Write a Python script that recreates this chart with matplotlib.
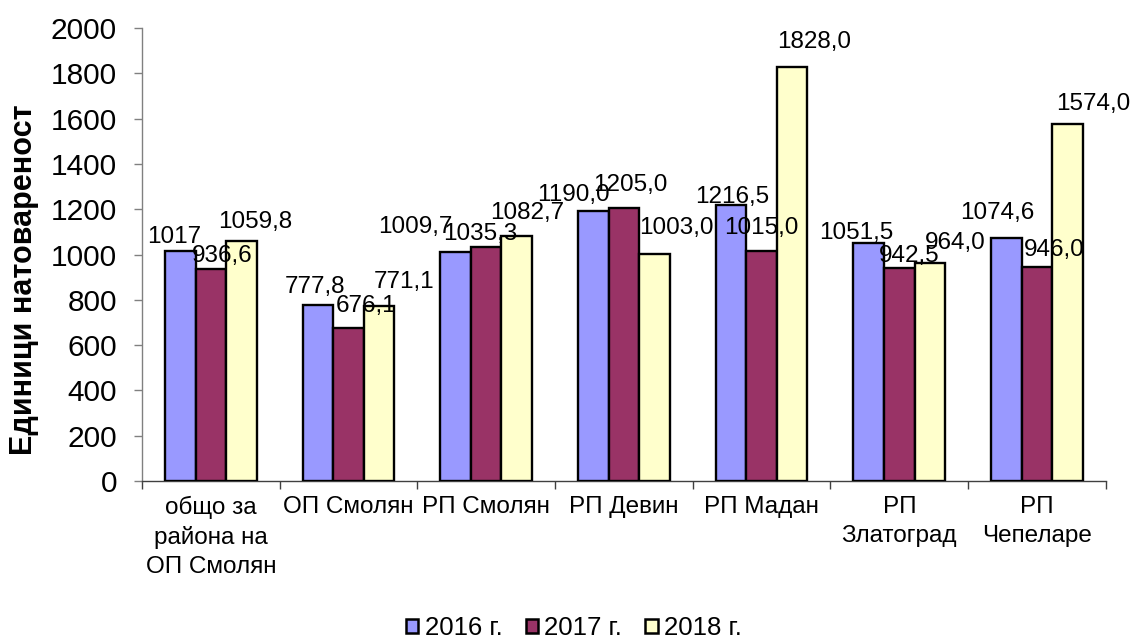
import matplotlib
matplotlib.use("Agg")
import matplotlib.pyplot as plt
import numpy as np

plt.rcParams['font.family'] = ['Liberation Sans', 'DejaVu Sans']

categories = ["общо за\nрайона на\nОП Смолян", "ОП Смолян", "РП Смолян", "РП Девин",
              "РП Мадан", "РП\nЗлатоград", "РП\nЧепеларе"]
series_names = ["2016 г.", "2017 г.", "2018 г."]
v2016 = [1017, 777.8, 1009.7, 1190.0, 1216.5, 1051.5, 1074.6]
v2017 = [936.6, 676.1, 1035.3, 1205.0, 1015.0, 942.5, 946.0]
v2018 = [1059.8, 771.1, 1082.7, 1003.0, 1828.0, 964.0, 1574.0]
labels2016 = ["1017", "777,8", "1009,7", "1190,0", "1216,5", "1051,5", "1074,6"]
labels2017 = ["936,6", "676,1", "1035,3", "1205,0", "1015,0", "942,5", "946,0"]
labels2018 = ["1059,8", "771,1", "1082,7", "1003,0", "1828,0", "964,0", "1574,0"]
colors = ["#9999FF", "#993366", "#FFFFCC"]
yticks = [0, 200, 400, 600, 800, 1000, 1200, 1400, 1600, 1800, 2000]

# layout: nudges of the value labels (pixels: dx right, gap above the bar top)
nudge_x = [[-6, -3, -40, -20, 1, -12, -9],
           [11, 18, -6, 6, 0, 10, 17],
           [14, 25, 10, 22, 22, 25, 26]]
nudge_y = [[8, 12, 19, 10, 2, 4, 19],
           [7, 16, 7, 17, 17, 6, 11],
           [13, 18, 17, 20, 19, 14, 14]]

fig = plt.figure(figsize=(11.33, 6.41), dpi=100)
ax = fig.add_axes([0.1253, 0.2496, 0.976 - 0.1253, 0.9563 - 0.2496])

x = np.arange(len(categories))
w = 0.222
px2pt = 72 / 100
for i, (vals, labs) in enumerate(zip([v2016, v2017, v2018], [labels2016, labels2017, labels2018])):
    pos = x + (i - 1) * w
    ax.bar(pos, vals, width=w, color=colors[i], edgecolor='black', linewidth=1.7,
           label=series_names[i], zorder=3)
    for j, (p, v, t) in enumerate(zip(pos, vals, labs)):
        ax.annotate(t, (p, v), xytext=(nudge_x[i][j] * px2pt, nudge_y[i][j] * px2pt),
                    textcoords='offset points', ha='center', va='baseline',
                    fontsize=17.5, zorder=4, annotation_clip=False)

ax.set_xlim(-0.5, len(categories) - 0.5)
ax.set_ylim(0, 2000)
ax.set_yticks(yticks)
ax.set_yticklabels([str(t) for t in yticks], fontsize=21.5)
ax.set_xticks(x)
ax.set_xticklabels(categories, fontsize=17.5, linespacing=1.38)
ax.tick_params(axis='x', length=0, pad=11)
ax.set_xticks(np.arange(-0.5, len(categories)), minor=True)
ax.tick_params(axis='x', which='minor', length=6, color='#404040', width=1)
ax.tick_params(axis='y', length=6, color='#808080', width=1, pad=12)
for s in ['top', 'right']:
    ax.spines[s].set_visible(False)
ax.spines['left'].set_color('#808080')
ax.spines['bottom'].set_color('#404040')
ax.spines['left'].set_linewidth(1)
ax.spines['bottom'].set_linewidth(1)

ax.set_ylabel("Единици натовареност", fontsize=22, fontweight='bold')
ax.yaxis.label.set_verticalalignment('center')
ax.yaxis.set_label_coords((24 - 142) / 964, (481 - 280) / 453)

leg = fig.legend(loc='center', bbox_to_anchor=(574 / 1133, 1 - 628 / 641), ncol=3, frameon=False,
                 fontsize=18.5, handlelength=0.48, handleheight=0.48, handletextpad=0.25,
                 columnspacing=0.9, borderpad=0)
for h in leg.legend_handles:
    h.set_linewidth(1.8)

fig.savefig("out.png", dpi=100)
